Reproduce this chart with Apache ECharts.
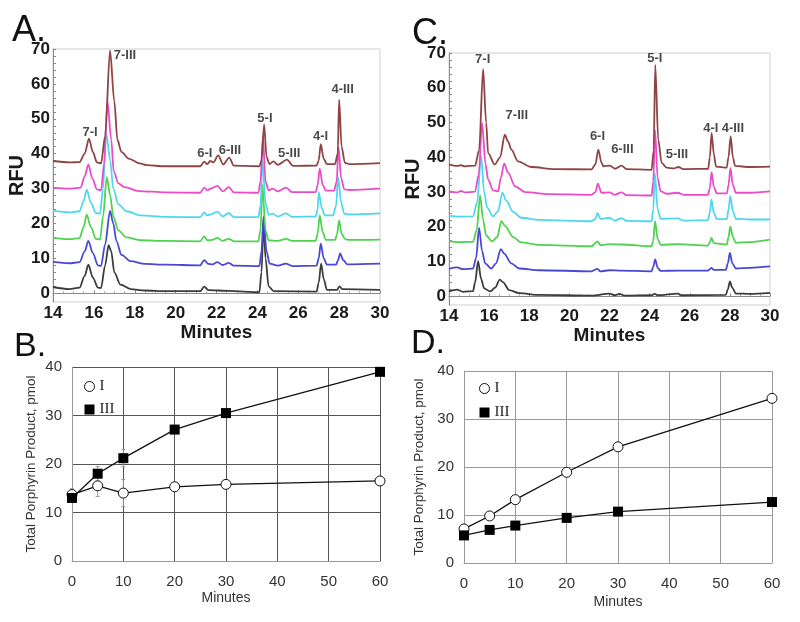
<!DOCTYPE html>
<html><head><meta charset="utf-8">
<script src="https://cdn.jsdelivr.net/npm/echarts@6/dist/echarts.min.js"></script>
<style>html,body{margin:0;padding:0;background:#fff}#c{width:800px;height:622px}</style>
</head><body><div id="c"></div>
<script>
// ---------- Panel A chromatograms: [minutes, RFU] ----------
const a_black = [[14,1.8],[14.8,1.2],[15.3,1.6],[15.55,5],[15.73,8.2],[15.95,4.5],[16.2,1.6],[16.35,1.5],[16.55,8],[16.72,13.8],[16.85,12],[17.0,6],[17.3,2.5],[17.8,1.2],[18.5,0.8],[19.5,0.6],[21.2,0.6],[21.4,1.9],[21.6,0.9],[22.6,0.7],[24.1,0.3],[24.2,6],[24.3,20],[24.4,10],[24.55,2],[24.8,0.6],[26.9,0.5],[27.0,3],[27.12,8.5],[27.25,4],[27.4,1.0],[27.9,1.0],[28.02,2.0],[28.15,1.2],[30,1.0]];
const a_blue = [[14,9.0],[14.8,8.6],[15.3,8.9],[15.55,12],[15.73,15.0],[15.95,11.5],[16.2,8.0],[16.35,7.8],[16.55,14],[16.79,23.6],[16.95,20],[17.1,15],[17.35,11],[17.8,9.2],[18.5,8.4],[19.5,8.2],[21.2,8.0],[21.4,9.5],[21.6,8.4],[21.8,8.3],[22.05,8.9],[22.3,8.1],[22.6,8.7],[22.85,7.9],[24.1,7.8],[24.2,12],[24.3,22],[24.45,12],[24.6,8.5],[25.0,7.9],[25.4,8.5],[25.7,7.8],[26.9,7.9],[27.0,10],[27.1,14.2],[27.25,10],[27.4,8.2],[27.85,8.2],[27.95,9.5],[28.05,11.4],[28.2,9.5],[28.4,8.3],[30,8.5]];
const a_green = [[14,15.9],[14.8,15.5],[15.3,15.8],[15.5,19],[15.65,22.5],[15.85,19],[16.1,15.6],[16.3,15.4],[16.45,22],[16.63,33.3],[16.8,28],[16.95,22],[17.2,18],[17.6,16],[18.3,15.2],[19.5,15.0],[21.2,14.9],[21.4,16.3],[21.55,15.2],[21.8,15.3],[22.05,15.9],[22.3,15],[22.6,15.6],[22.85,14.9],[24.05,14.9],[24.15,18],[24.25,31],[24.4,18],[24.55,15.2],[25.0,15.0],[25.4,15.6],[25.7,15.0],[26.85,15.0],[26.95,17],[27.05,22.3],[27.2,17.5],[27.35,15.3],[27.8,15.3],[27.9,17],[28.0,20.9],[28.12,17],[28.3,15.5],[28.5,15.3],[30,15.4]];
const a_cyan = [[14,23.6],[14.8,23.2],[15.3,23.5],[15.5,26.5],[15.65,29.7],[15.85,26],[16.1,23],[16.3,22.8],[16.45,30],[16.6,46.2],[16.8,38],[16.95,30],[17.2,25.5],[17.6,23.5],[18.3,22.3],[19.5,21.9],[21.2,21.8],[21.4,23.2],[21.55,22.3],[21.7,22.6],[22.05,23.4],[22.3,22.0],[22.6,23.0],[22.85,21.8],[24.05,21.8],[24.15,25],[24.25,38],[24.4,26],[24.55,22.5],[24.75,22.8],[25.0,22.0],[25.4,22.9],[25.7,21.9],[26.85,22.0],[26.95,24],[27.0,29.0],[27.15,24.5],[27.3,22.3],[27.7,22.3],[27.85,25],[27.95,33.3],[28.1,26],[28.25,22.8],[28.5,22.6],[30,22.9]];
const a_magenta = [[14,30.3],[14.8,30.0],[15.35,30.3],[15.55,33.5],[15.73,36.9],[15.92,33],[16.15,29.8],[16.35,29.5],[16.5,37],[16.66,55.1],[16.85,44],[16.97,35],[17.2,31.5],[17.5,30.4],[18.2,29.3],[19.5,28.9],[21.2,28.8],[21.4,30.3],[21.55,29.5],[21.7,30.0],[22.05,30.8],[22.3,29.2],[22.6,30.4],[22.85,28.9],[24.05,28.8],[24.15,32],[24.27,45],[24.4,32],[24.55,29.5],[24.75,30],[25.0,29.2],[25.4,30.3],[25.7,29.0],[26.85,29.0],[26.95,31],[27.05,35.7],[27.2,31],[27.35,29.4],[27.75,29.4],[27.88,32],[27.97,41.9],[28.1,33],[28.25,29.8],[28.5,29.6],[30,30.0]];
const a_brown = [[14.0,37.9],[14.8,37.5],[15.3,37.6],[15.55,40],[15.76,44.3],[15.95,40.5],[16.15,37.5],[16.35,37.2],[16.55,45],[16.79,69.6],[17.0,55],[17.15,44],[17.35,40.5],[17.7,38.6],[18.25,37.2],[18.6,36.7],[19.5,36.4],[21.2,36.4],[21.4,37.7],[21.55,37.0],[21.7,37.9],[21.85,37.5],[22.08,39.5],[22.33,36.9],[22.62,38.9],[22.85,36.6],[24.1,36.4],[24.2,38],[24.33,48.4],[24.45,39],[24.6,37.0],[24.78,37.8],[25.0,36.8],[25.45,38.3],[25.75,36.5],[26.9,36.6],[27.0,38],[27.1,42.7],[27.25,38.5],[27.4,37.0],[27.8,37.0],[27.93,40],[28.0,55.5],[28.12,42],[28.28,37.4],[28.5,37.0],[30,37.3]];

// ---------- Panel C chromatograms ----------
const c_black = [[14,1.4],[14.4,1.9],[14.7,1.3],[15.2,1.5],[15.3,4],[15.45,10.1],[15.6,5],[15.75,2.3],[16.05,1.4],[16.3,2.5],[16.53,4.8],[16.7,4.0],[17.0,1.8],[17.5,0.9],[18.5,0.4],[21.1,0.2],[22.0,0.8],[22.25,0.3],[22.5,0.7],[22.75,0.2],[24.1,0.3],[24.25,0.7],[24.4,0.3],[25.4,0.8],[25.6,0.3],[27.8,0.4],[27.9,2],[28.0,4.3],[28.12,2.5],[28.3,0.8],[29,0.7],[30,1.0]];
const c_blue = [[14,7.9],[14.4,8.3],[14.7,7.8],[15.2,8.0],[15.35,11],[15.5,19.7],[15.65,13],[15.8,9.5],[16.1,8.0],[16.35,9.5],[16.58,13.6],[16.75,12.3],[17.1,9.5],[17.5,8.0],[18.5,7.5],[21.1,7.2],[21.4,7.9],[21.55,7.2],[22.0,7.5],[22.6,7.4],[24.1,7.2],[24.18,8.5],[24.28,10.6],[24.4,8.2],[24.55,7.3],[25.4,7.4],[26.9,7.4],[27.0,7.8],[27.08,8.2],[27.2,7.6],[27.8,7.6],[27.9,9.5],[28.0,12.5],[28.12,9.5],[28.3,8.0],[29,8.2],[30,8.6]];
const c_green = [[14,15.8],[14.5,15.6],[15.2,15.7],[15.38,19],[15.55,29.0],[15.7,22],[15.85,17.5],[16.15,15.8],[16.4,17],[16.61,21.6],[16.8,20.2],[17.2,17],[17.6,15.5],[18.5,14.8],[21.1,14.4],[21.4,15.8],[21.55,14.7],[22.0,15.0],[22.6,14.9],[24.1,14.4],[24.18,16],[24.27,21.6],[24.4,16.5],[24.55,14.8],[25.4,15.0],[26.9,14.6],[27.0,15.5],[27.08,16.8],[27.2,15.3],[27.85,14.9],[27.93,17],[28.02,20.1],[28.15,17],[28.3,15.4],[29,15.6],[30,16.3]];
const c_cyan = [[14,23.2],[14.5,22.9],[15.2,23.0],[15.4,27],[15.6,40.5],[15.75,30],[15.9,25.5],[16.2,23.0],[16.45,24.5],[16.66,29.9],[16.85,27.5],[17.2,24.3],[17.6,22.6],[18.5,22],[21.1,21.6],[21.3,22.3],[21.4,24.0],[21.55,22.3],[22.0,22.6],[22.25,21.8],[22.6,22.5],[22.85,21.7],[24.1,21.6],[24.18,25],[24.26,35.5],[24.4,25],[24.55,22.3],[25.4,22.4],[25.7,21.8],[26.9,21.9],[27.0,24],[27.08,27.8],[27.2,24],[27.35,22.2],[27.85,22.2],[27.93,25],[28.02,28.8],[28.15,24.5],[28.3,22.3],[29,22.1],[30,22.1]];
const c_magenta = [[14,30.2],[14.4,29.9],[14.6,30.3],[14.8,29.9],[15.3,30.1],[15.48,35],[15.65,49.9],[15.82,38],[15.95,33.6],[16.2,30.5],[16.45,30.2],[16.58,34],[16.75,38.2],[16.95,35.5],[17.3,31.6],[17.8,30.0],[19,29.4],[21.1,29.2],[21.3,30],[21.42,32.4],[21.6,29.8],[22.0,29.9],[22.25,29.2],[22.6,29.9],[22.85,29.1],[24.1,29.0],[24.18,33],[24.27,47.9],[24.4,34],[24.55,30.2],[24.85,29.5],[25.4,29.8],[25.7,29.2],[26.9,29.2],[27.0,31],[27.09,35.7],[27.2,31.5],[27.35,29.6],[27.85,29.6],[27.93,32],[28.03,36.9],[28.15,32],[28.3,29.8],[29,29.8],[30,30.2]];
const c_brown = [[14,37.9],[14.4,37.5],[14.6,37.7],[14.8,37.4],[15.3,37.6],[15.5,42],[15.7,65.4],[15.85,50],[15.95,41.2],[16.28,37.9],[16.55,40],[16.78,46.5],[16.95,44.5],[17.11,42.2],[17.44,38.8],[18.11,37.2],[19.27,36.6],[21.1,36.5],[21.3,38],[21.44,42.2],[21.6,38.5],[21.69,37.4],[22.02,37.6],[22.27,36.7],[22.6,37.6],[22.85,36.6],[24.1,36.4],[24.2,42],[24.28,66.6],[24.43,45],[24.6,38.4],[24.85,37.0],[25.2,36.8],[25.43,37.2],[25.68,36.6],[26.92,36.7],[27.0,40],[27.09,47.0],[27.2,41],[27.31,37.3],[27.84,37.0],[27.93,40],[28.04,46.0],[28.15,40],[28.26,37.5],[29,37.2],[30,37.3]];

// ---------- Peak labels: [text, minutes, RFU] ----------
const a_peakLabels = [['7-I',15.81,46.2],['7-III',17.52,68.2],['6-I',21.43,40.1],['6-III',22.66,40.8],['5-I',24.37,50.2],['5-III',25.56,40.1],['4-I',27.09,44.9],['4-III',28.17,58.4]];
const c_peakLabels = [['7-I',15.68,68.1],['7-III',17.38,51.9],['6-I',21.4,45.9],['6-III',22.64,42.2],['5-I',24.26,68.4],['5-III',25.36,40.75],['4-I',27.05,48.2],['4-III',28.15,48.2]];

// ---------- Panels B and D: total porphyrin product ----------
const timePoints = [0, 5, 10, 20, 30, 60];
const b_I   = [13.7, 15.5, 14.0, 15.3, 15.8, 16.5];
const b_III = [13.0, 18.0, 21.2, 27.1, 30.5, 39.0];
const b_errI   = [[0,13.7,1.2],[5,15.5,2.2],[10,14.0,2.8]];
const b_errIII = [[5,18.0,1.5],[10,21.2,1.8]];
const d_I   = [7.1, 9.8, 13.2, 18.9, 24.2, 34.3];
const d_III = [5.75, 6.9, 7.8, 9.4, 10.7, 12.7];

const rfuTicks = [0,10,20,30,40,50,60,70];
const rfuMinor = [0,2,4,6,8,10,12,14,16,18,20,22,24,26,28,30,32,34,36,38,40,42,44,46,48,50,52,54,56,58,60,62,64,66,68,70];
const traceColors = ['#3c3c3c','#4848d4','#4fd24f','#4fd8ec','#e84cc8','#8e4444'];

const chart = echarts.init(document.getElementById('c'), null, {renderer:'canvas'});
const FONT = 'Liberation Sans, Arial, sans-serif';

function chromX(idx, gap){
  return {gridIndex:idx, type:'value', min:14, max:30, interval:2,
    name:'Minutes', nameLocation:'middle', nameGap: gap,
    nameTextStyle:{fontFamily:FONT, fontSize:19, fontWeight:'bold', color:'#1a1a1a'},
    axisLine:{show:true, lineStyle:{color:'#8a8a8a', width:1}},
    axisTick:{show:true, inside:true, length:3, lineStyle:{color:'#8a8a8a'}},
    minorTick:{show:true, splitNumber:4, length:2, lineStyle:{color:'#aaa'}},
    axisLabel:{fontFamily:FONT, fontSize:17, fontWeight:'bold', color:'#1a1a1a', margin:3},
    splitLine:{show:false}};
}
function chromY(idx, gap){
  return {gridIndex:idx, type:'value', min:-2.5, max:70,
    name:'RFU', nameLocation:'middle', nameGap:gap,
    nameTextStyle:{fontFamily:FONT, fontSize:20, fontWeight:'bold', color:'#1a1a1a'},
    axisLine:{show:true, lineStyle:{color:'#8a8a8a', width:1}},
    axisTick:{show:true, inside:true, length:3, customValues:rfuMinor, lineStyle:{color:'#8a8a8a'}},
    axisLabel:{fontFamily:FONT, fontSize:17, fontWeight:'bold', color:'#1a1a1a', margin:3, customValues:rfuTicks},
    splitLine:{show:false}};
}
function timeX(idx, gridColor, gap){
  return {gridIndex:idx, type:'value', min:0, max:60, interval:10,
    name:'Minutes', nameLocation:'middle', nameGap:gap,
    nameTextStyle:{fontFamily:FONT, fontSize:14, color:'#333'},
    axisLine:{show:true, lineStyle:{color:'#999'}},
    axisTick:{show:false},
    axisLabel:{fontFamily:FONT, fontSize:15, color:'#333', margin:13},
    splitLine:{show:true, lineStyle:{color:gridColor, width:1}}};
}
function timeY(idx, gridColor, gap){
  return {gridIndex:idx, type:'value', min:0, max:40, interval:10,
    name:'Total Porphyrin Product, pmol', nameLocation:'middle', nameGap:gap,
    nameTextStyle:{fontFamily:FONT, fontSize:13.5, color:'#333'},
    axisLine:{show:true, lineStyle:{color:'#999'}},
    axisTick:{show:false},
    axisLabel:{fontFamily:FONT, fontSize:15, color:'#333', margin:10},
    splitLine:{show:true, lineStyle:{color:gridColor, width:1}}};
}

const series = [];
function addTraces(list, axisIdx){
  list.forEach((d,i)=>{
    series.push({type:'line', xAxisIndex:axisIdx, yAxisIndex:axisIdx, data:d, showSymbol:false, symbol:'none',
      smooth:0.3, smoothMonotone:'x', silent:true,
      lineStyle:{color:traceColors[i], width:1.8}, z:2+i});
  });
}
addTraces([a_black,a_blue,a_green,a_cyan,a_magenta,a_brown], 0);
addTraces([c_black,c_blue,c_green,c_cyan,c_magenta,c_brown], 2);

function addLabels(list, axisIdx){
  series.push({type:'scatter', xAxisIndex:axisIdx, yAxisIndex:axisIdx, silent:true, symbolSize:1,
    itemStyle:{color:'rgba(0,0,0,0)'}, z:20,
    data:list.map(l=>[l[1], l[2], l[0]]),
    label:{show:true, position:'inside', formatter:p=>p.value[2], fontFamily:FONT, fontSize:13, fontWeight:'bold', color:'#1a1a1a'}});
}
addLabels(a_peakLabels, 0);
addLabels(c_peakLabels, 2);

function errSeries(data, axisIdx){
  return {type:'custom', xAxisIndex:axisIdx, yAxisIndex:axisIdx, silent:true, z:1,
    data:data,
    renderItem:(params, api)=>{
      const x = api.value(0), y = api.value(1), e = api.value(2);
      const p1 = api.coord([x, y+e]), p2 = api.coord([x, y-e]);
      return {type:'group', children:[
        {type:'line', shape:{x1:p1[0],y1:p1[1],x2:p2[0],y2:p2[1]}, style:{stroke:'#9a9a9a', lineWidth:1}},
        {type:'line', shape:{x1:p1[0]-2,y1:p1[1],x2:p1[0]+2,y2:p1[1]}, style:{stroke:'#9a9a9a', lineWidth:1}},
        {type:'line', shape:{x1:p2[0]-2,y1:p2[1],x2:p2[0]+2,y2:p2[1]}, style:{stroke:'#9a9a9a', lineWidth:1}}
      ]};
    }};
}
series.push(errSeries(b_errI, 1));
series.push(errSeries(b_errIII, 1));

function timeSeries(name, vals, axisIdx, open){
  return {type:'line', name:name, xAxisIndex:axisIdx, yAxisIndex:axisIdx, silent:true,
    data:timePoints.map((t,i)=>[t, vals[i]]),
    symbol: open ? 'circle' : 'rect', symbolSize: 10,
    lineStyle:{color:'#111', width:1.3},
    itemStyle: open ? {color:'#fff', borderColor:'#111', borderWidth:1} : {color:'#000', borderColor:'#000', borderWidth:0},
    z: open ? 4 : 5};
}
series.push(timeSeries('I', b_I, 1, true));
series.push(timeSeries('III', b_III, 1, false));
series.push(timeSeries('I', d_I, 3, true));
series.push(timeSeries('III', d_III, 3, false));

function legendAt(left, top, gap){
  return {orient:'vertical', left:left, top:top, padding:0, itemGap:gap, itemWidth:10, itemHeight:10,
    selectedMode:false,
    textStyle:{fontFamily:'Liberation Serif, Times New Roman, serif', fontSize:15, color:'#222', padding:[4,0,0,0]},
    data:[{name:'I', icon:'circle', itemStyle:{color:'#fff', borderColor:'#111', borderWidth:1}},
          {name:'III', icon:'rect', itemStyle:{color:'#000', borderWidth:0}}]};
}

const option = {
  animation:false,
  backgroundColor:'#fff',
  grid:[
    {left:53, top:49, width:327, height:253, show:true, borderColor:'#cfcfcf', borderWidth:1, backgroundColor:'transparent'},
    {left:72, top:367, width:308, height:194},
    {left:449, top:53, width:321, height:252, show:true, borderColor:'#cfcfcf', borderWidth:1, backgroundColor:'transparent'},
    {left:464, top:371, width:308, height:192}
  ],
  xAxis:[chromX(0,17), timeX(1,'#555',30), chromX(2,16), timeX(3,'#9a9a9a',32)],
  yAxis:[chromY(0,16), timeY(1,'#555',34), chromY(2,15), timeY(3,'#9a9a9a',38)],
  legend:[legendAt(84,379,8), legendAt(479,381,9)],
  graphic:[
    {type:'text', left:12, top:13, style:{text:'A.', font:'36px Liberation Sans, Arial', fill:'#111'}},
    {type:'text', left:412, top:16, style:{text:'C.', font:'36px Liberation Sans, Arial', fill:'#111'}},
    {type:'text', left:14, top:330, style:{text:'B.', font:'34px Liberation Sans, Arial', fill:'#111'}},
    {type:'text', left:411, top:327, style:{text:'D.', font:'34px Liberation Sans, Arial', fill:'#111'}}
  ],
  series:series
};
chart.setOption(option);
</script>
</body></html>
